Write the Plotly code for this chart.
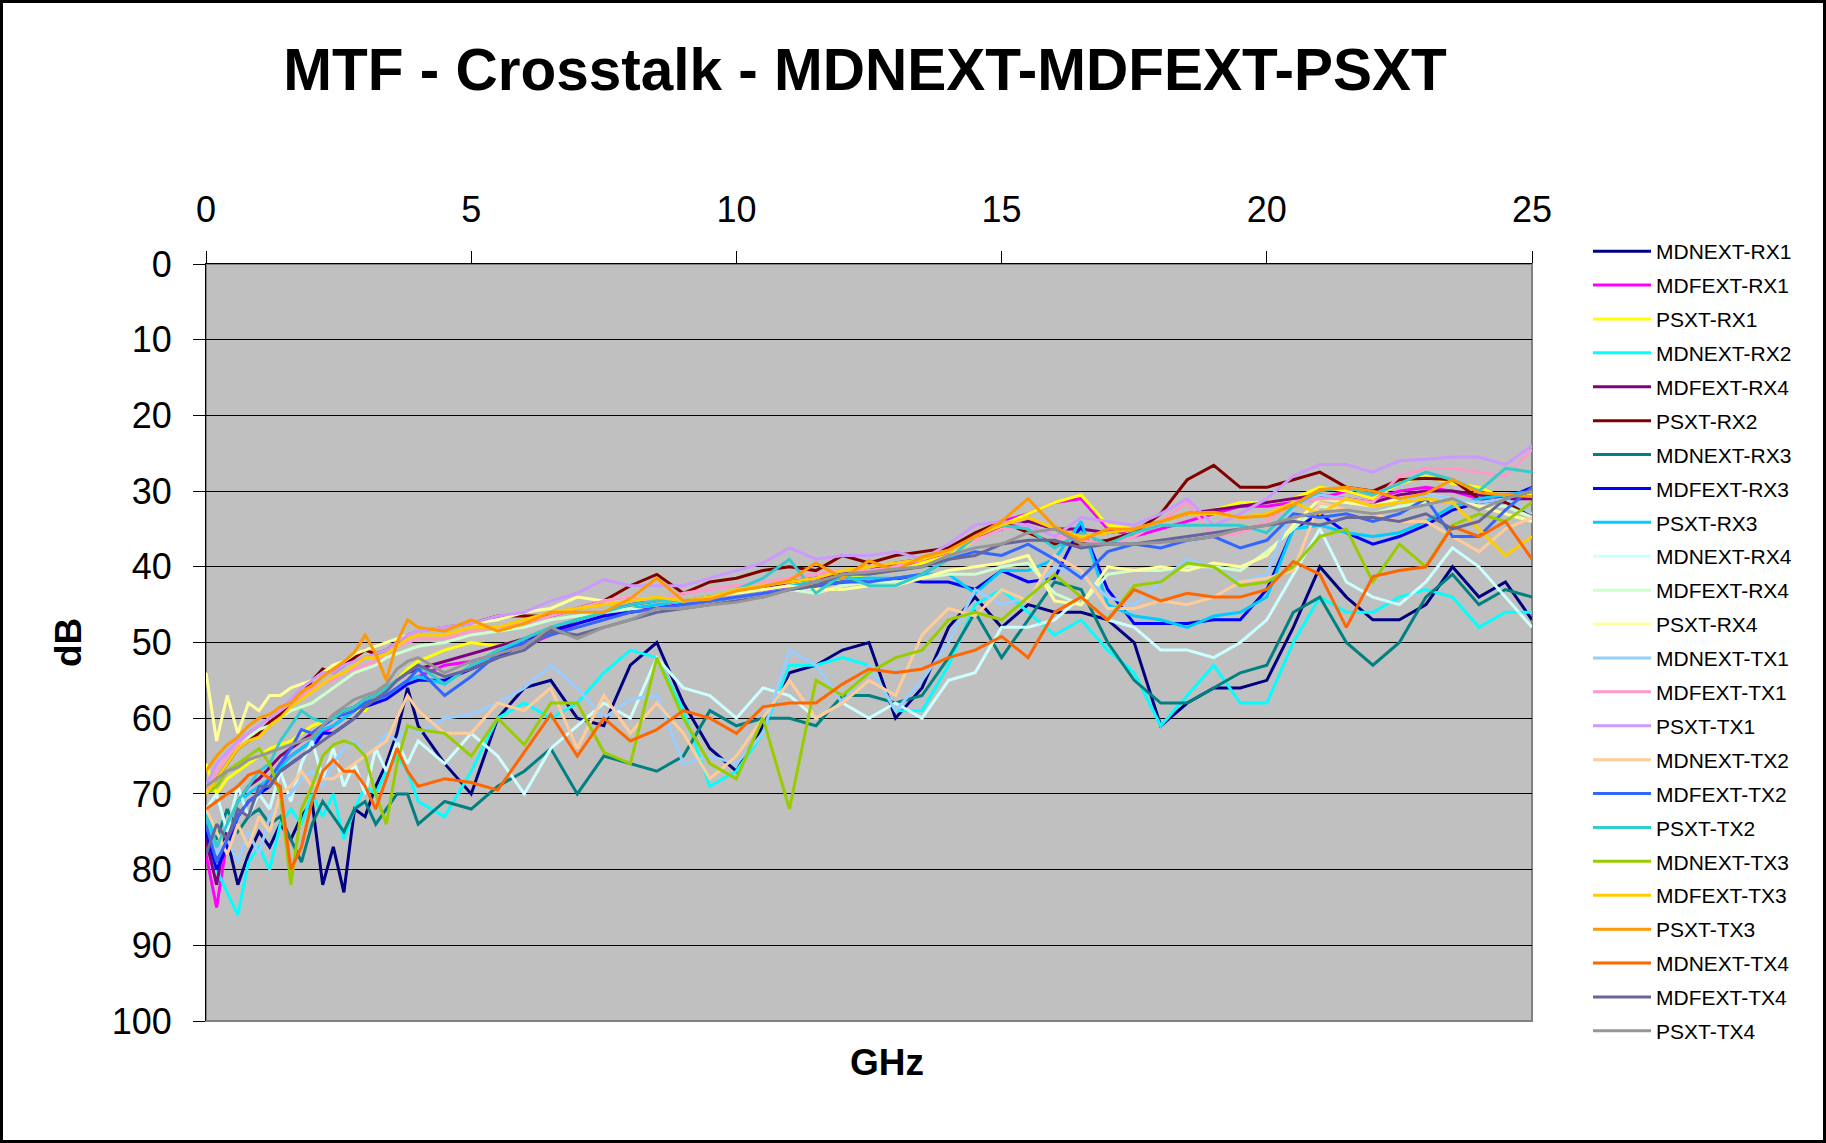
import plotly.graph_objects as go

# ---------------- data (dB vs GHz) ----------------
freq = [0, 0.2, 0.4, 0.6, 0.8, 1, 1.2, 1.4, 1.6, 1.8, 2, 2.2, 2.4, 2.6, 2.8, 3, 3.2, 3.4, 3.6, 3.8, 4,
        4.5, 5, 5.5, 6, 6.5, 7, 7.5, 8, 8.5, 9, 9.5, 10, 10.5, 11, 11.5, 12, 12.5, 13, 13.5, 14,
        14.5, 15, 15.5, 16, 16.5, 17, 17.5, 18, 18.5, 19, 19.5, 20, 20.5, 21, 21.5, 22, 22.5, 23, 23.5, 24, 24.5, 25]

mdnext_rx1 = [74, 79, 76, 82, 78, 75, 77, 74, 76, 73, 71, 82, 77, 83, 72, 73, 69, 66, 62, 56, 61,
              66, 70, 60, 56, 55, 60, 61, 53, 50, 58, 64, 67, 61, 54, 53, 51, 50, 60, 56, 48,
              44, 48, 45, 46, 46, 47, 50, 61, 58, 56, 56, 55, 48, 40, 44, 47, 47, 45, 40, 44, 42, 47]
mdfext_rx1 = [78, 85, 76, 73, 71, 70, 68, 66, 65, 64, 63, 62, 61, 60, 59, 58, 57.5, 57, 56, 55, 54.5,
              53, 52.5, 51.5, 50.5, 49, 47.5, 46.5, 46, 45, 45, 44.5, 44, 43.5, 42.5, 42, 41.5, 41, 40, 39.5, 38,
              36, 34, 33, 31.5, 31, 35, 36, 35, 34, 33, 32, 32, 31.5, 31, 30, 31, 30, 29.5, 30, 31, 30.5, 30]
psxt_rx1 = [66, 70, 68, 67, 66, 65, 64, 63.5, 63, 62, 61, 60.5, 60, 59.5, 59, 59, 57, 56, 55, 53.5, 52.5,
            51, 50, 50.5, 49.5, 48.5, 47, 46, 45.5, 45, 44.5, 44, 43.5, 43, 42, 42.5, 41.5, 41, 40.5, 39.5, 38.5,
            36.5, 34.5, 33, 31.5, 30.5, 34.5, 35, 34, 33, 32.5, 31.5, 31.5, 31, 29.5, 30, 31, 29, 28, 29, 29.5, 31, 30.5]
mdnext_rx2 = [76, 80, 83, 86, 79, 77, 80, 74, 72, 74, 70, 73, 70, 76, 72, 69, 70, 67, 65, 67, 71,
              73, 67, 60, 58, 60, 58, 54, 51, 52, 59, 69, 67, 62, 53, 53, 52, 53, 59, 59, 53,
              45, 43, 46, 49, 47, 51, 54, 61, 57, 53, 58, 58, 50, 44, 46, 46, 44, 43, 44, 48, 46, 46]
mdfext_rx4_a = [76, 82, 74, 71, 69, 68, 66.5, 65, 64, 63, 62, 61, 60, 59, 58.5, 57.5, 57, 56, 55, 54, 53.5,
                52.5, 51.5, 50.5, 49.5, 48.5, 47, 46, 45, 44.5, 44.5, 44, 43.5, 43, 42, 41.5, 41, 40.5, 39.5, 39, 38,
                36, 35, 34, 35, 35, 35.5, 35, 34, 33, 32.5, 32, 31.5, 31, 30.5, 31, 31.5, 30.5, 30, 30, 30.5, 31, 31]
psxt_rx2 = [70, 68, 66, 64, 63, 62, 60.5, 59.5, 58, 57, 55, 53.5, 54, 53, 52, 51, 51.5, 51, 50, 49, 48.5,
            48, 47.5, 46.5, 46.5, 46.5, 45.5, 44.5, 42.5, 41, 43.5, 42, 41.5, 40.5, 40, 40.5, 38.5, 39.5, 38.5, 38, 37.5,
            35.5, 34, 35.5, 37, 37, 36.5, 35.5, 33, 28.5, 26.6, 29.5, 29.5, 28.5, 27.5, 29.5, 30, 28.5, 28.3, 28.5, 31, 31.5, 33]
mdnext_rx3 = [74, 76, 72, 75, 73, 72, 74, 73, 76, 79, 74, 71, 73, 75, 72, 71, 74, 72, 70, 70, 74,
              71, 72, 69, 67, 64, 70, 65, 66, 67, 65, 59, 61, 60, 60, 61, 57, 57, 58, 57, 52,
              46, 52, 47, 42, 43, 50, 55, 58, 58, 56, 54, 53, 46, 44, 50, 53, 50, 44, 41, 45, 43, 44]
mdfext_rx3 = [75, 80, 77, 73, 71, 70, 69, 67, 66, 65, 64, 62, 62, 61, 60, 58.5, 58, 57.5, 56.5, 55.5, 55,
              55, 53.5, 52, 50, 48.5, 47.5, 46.5, 46, 45.5, 45, 44.5, 44, 43.5, 43, 42.5, 42, 42, 41.5, 42, 42,
              43, 40.5, 42, 41.5, 34.5, 43, 47.5, 47.5, 47.5, 47, 47, 43, 35, 33, 35.5, 37, 36, 34.5, 32.5, 31.5, 31, 29.5]
psxt_rx3 = [72, 77, 74, 71, 70, 69, 68, 66.5, 65, 64, 63, 61.5, 61, 60, 59, 58, 57.5, 57, 56, 55, 54.5,
            55.5, 53, 51.5, 49.5, 48, 47, 46, 45.5, 45, 44.5, 44, 43.5, 43, 42.5, 42, 41.5, 41.5, 41.5, 41, 41,
            43.5, 40.5, 40.5, 39, 34, 45, 46.5, 47, 48, 46.5, 46, 44, 35, 34.5, 35.5, 36, 35.5, 34, 32, 31, 30.5, 30]
mdnext_rx4 = [72, 70, 75, 69, 73, 70, 72, 67, 71, 66, 63, 68, 64, 69, 66, 70, 64, 67, 63, 66, 63,
              66, 62, 65, 70, 64, 61, 58, 60, 52, 56, 57, 60, 56, 57, 60, 58, 60, 58, 60, 55,
              54, 48, 48, 47, 44, 47, 48, 51, 51, 52, 50, 47, 41, 35, 42, 44, 45, 42, 37.5, 40, 44, 48]
mdfext_rx4_b = [70, 67, 65, 63.5, 62.5, 61.5, 61, 60, 59, 58.5, 58, 57, 56, 55, 54, 53.5, 53, 52, 51.5, 51, 50.5,
                50, 49, 48.5, 48, 47, 46.5, 46, 45.5, 46, 45, 44.5, 44, 43.5, 43, 43.5, 42.5, 42, 42, 41.5, 41,
                41, 40, 39.5, 43.5, 45, 41, 40.5, 40.5, 40, 40, 40.5, 38, 35, 32, 32.5, 33, 32, 31.5, 31, 32, 32, 33.5]
psxt_rx4 = [54, 63, 57, 62, 58, 59, 57, 57, 56, 55.5, 55, 54, 53, 52.5, 51.5, 51, 50.5, 50, 49.5, 49, 48.5,
            48, 47.5, 47, 46, 45.5, 44, 44.5, 44, 44.5, 44.5, 44, 43.5, 43, 42.5, 43, 43, 42.5, 42.5, 41.5, 40.5,
            40, 39.5, 38.5, 44.5, 45, 40, 40.5, 40, 40.5, 39.5, 40, 38.5, 34.5, 31, 31.5, 32, 31, 30.5, 31, 32, 33, 34]
mdnext_tx1 = [74, 78, 76, 79, 75, 78, 73, 71, 70, 68, 67, 69, 66, 64, 63, 65, 64, 62, 63, 61, 62,
              60, 59.5, 58, 56, 53, 56, 60, 57.5, 57, 66, 65, 66, 62, 51, 53, 58, 53, 59, 55, 50,
              43, 45, 44, 40, 41, 44, 45, 42, 39, 40, 42, 41, 32, 30.5, 31, 32, 31.5, 30.5, 31, 31.5, 31, 33]
mdfext_tx1 = [70, 67, 65, 63.5, 62, 61, 60, 59, 58, 57, 56, 55.5, 55, 54, 53.5, 53, 52.5, 51.5, 50.5, 50, 49.5,
              49.5, 48.5, 48, 47.5, 46.5, 45.5, 44.5, 44, 44.5, 43.5, 43, 42.5, 42, 41.5, 41, 40.5, 40.5, 40, 39, 38,
              36.5, 35, 34.5, 36, 36.5, 37, 36, 34, 31.5, 36, 35.5, 34, 31.5, 31, 31, 31.5, 28, 27, 27, 27.5, 28, 24.5]
psxt_tx1 = [69, 66, 64.5, 63, 62, 61, 60, 59, 57.5, 56, 55, 54, 54, 53, 52.5, 52, 51.5, 51, 50, 49, 48.5,
            48, 47.5, 46.5, 46, 44.5, 43.5, 41.7, 42.5, 42.5, 42.5, 41.5, 40.5, 39.5, 37.5, 39, 38.5, 38.5, 38, 39, 37,
            34.5, 34, 34.5, 36, 33.5, 34, 34.5, 33, 31, 34.5, 33, 31, 28, 26.5, 26.5, 27.5, 26, 25.8, 25.5, 25.5, 26.5, 24]
mdnext_tx2 = [72, 75, 78, 74, 77, 73, 75, 70, 69, 67, 69, 68, 68, 67, 66, 65, 64, 63, 60, 57, 59,
              62, 62, 58, 59, 56, 64, 57, 62, 58, 62, 68, 65, 60, 55, 60, 58, 55, 57, 49, 45.5,
              46.5, 43, 44.5, 38.5, 40.5, 45.5, 45.5, 44.5, 45, 44, 42, 41.5, 40.5, 31.5, 32.5, 33, 34, 34, 36, 38, 35, 33.5]
mdfext_tx2 = [74, 79, 76, 73, 71, 70, 68, 66, 64, 61.5, 62, 61, 60, 59.5, 59, 58, 57.5, 57, 56, 55, 53.5,
              57, 54.5, 51.5, 50, 49, 48, 47, 46, 45.5, 45, 44.5, 44, 43.5, 43, 42.5, 42, 42, 41.5, 41, 39,
              38, 38.5, 37, 39, 41.5, 38, 37, 37.5, 36.5, 36, 37.5, 36.5, 33, 33.5, 33, 34, 33, 31, 36, 36, 32.5, 29.5]
psxt_tx2 = [73, 77, 74, 71, 69, 67, 66, 63, 61, 59, 60, 60.5, 60, 59, 58.5, 57.5, 57, 56, 55, 54, 53,
            55.5, 53, 51, 49.5, 48, 47, 46, 45, 44.5, 44.5, 44, 43, 41.5, 39, 43.5, 41, 42.5, 42.5, 41, 39,
            36, 34.5, 35, 37.5, 35.5, 37, 35.5, 34.5, 34.5, 34.5, 34.5, 35.5, 32, 30, 29.5, 30.5, 29, 27.5, 28.5, 30, 27, 27.5]
mdnext_tx3 = [70, 69, 67, 66, 65, 64, 66, 70, 82, 72, 69, 65, 63.5, 63, 63.5, 65, 70, 74, 66, 61, 61.5,
              62, 65, 60, 63.5, 58, 58, 64.5, 66, 52, 60, 66, 68, 60, 72, 55, 57, 54, 52, 51, 47,
              46, 47, 44, 41, 44, 47, 42.5, 42, 39.5, 40, 42.5, 42, 40, 36, 35, 42, 37, 40, 34.5, 33, 34, 31.5]
mdfext_tx3 = [70, 68, 66, 64, 63, 62.5, 61, 60, 58.5, 57.5, 56.5, 55.5, 54.5, 54, 53, 52, 52, 51.5, 50.5, 49.5, 49,
              49, 48, 48, 47, 46, 45.5, 45, 44.5, 44, 44.5, 44, 43, 42.5, 42, 41.5, 40.5, 40, 39.5, 39, 38,
              36, 34.5, 33.5, 35, 36, 35.5, 35, 34, 33, 33, 33.5, 33, 31.5, 33, 31, 32, 31.5, 31, 31.5, 35, 38.5, 36]
psxt_tx3 = [67, 65, 63.5, 62.5, 61, 60, 59.5, 58.5, 58, 56.5, 55.7, 54.5, 53.5, 52.5, 51.3, 49, 51.5, 55, 50, 47, 48,
            48.5, 47, 48.5, 47.5, 46, 46, 46, 44.2, 41.5, 44.5, 44.3, 43.2, 42.6, 41.8, 39.5, 41.5, 39.2, 40.5, 38.7, 37.8,
            36, 34, 31, 34.7, 36.5, 35, 35, 34, 32.9, 32.8, 33.5, 33.3, 31.8, 29.8, 29.5, 30, 31, 30.3, 28.5, 30.2, 30.5, 30.7]
mdnext_tx4 = [72, 71, 70, 69, 67.5, 67, 68, 69, 80, 77, 71, 67, 65.5, 67, 67, 69, 72, 68, 64, 67, 69,
              68, 68.5, 69.5, 64.5, 59.5, 65, 60, 63, 61.5, 59, 60, 62, 58.5, 58, 58, 55.5, 53.5, 54, 53.5, 52,
              51, 49.2, 52, 46, 44, 47, 43, 44.5, 43.5, 44, 44, 43, 39.3, 41, 48, 41.3, 40.5, 40, 34.7, 36, 34, 39]
mdfext_tx4 = [78, 74, 76, 72, 73, 69, 69, 67, 66, 65, 64, 63, 62, 61, 60, 58.5, 57.5, 56.5, 55, 54, 53,
              54.5, 53.5, 52, 51, 48.5, 49, 48, 47, 46, 45.5, 45, 44.5, 44, 43, 42.5, 41, 41, 40.5, 40, 39,
              38.5, 37, 36.5, 36.5, 37.5, 37, 37, 36.5, 36, 35.5, 35, 34.5, 34, 34.5, 33.5, 33.5, 34, 33, 35, 34, 31, 30]
psxt_tx4 = [69, 68, 67, 66.5, 65.5, 65, 64.5, 64, 63.5, 63, 62.5, 61, 59.5, 58.5, 57.5, 57, 56.5, 55.5, 53.5, 52.5, 52,
            54, 52.5, 51.5, 50.5, 48, 49.5, 48, 47, 45.5, 45.5, 45, 44.7, 44, 43, 42, 41, 40.7, 40.3, 40, 38.5,
            37.5, 37, 35.5, 35, 37, 37, 37, 36.8, 36.5, 36, 35, 34.5, 33.5, 32.8, 32.5, 33, 32.5, 31.8, 31, 32.5, 31, 30]

series_names = ["MDNEXT-RX1", "MDFEXT-RX1", "PSXT-RX1", "MDNEXT-RX2", "MDFEXT-RX4", "PSXT-RX2",
                "MDNEXT-RX3", "MDFEXT-RX3", "PSXT-RX3", "MDNEXT-RX4", "MDFEXT-RX4", "PSXT-RX4",
                "MDNEXT-TX1", "MDFEXT-TX1", "PSXT-TX1", "MDNEXT-TX2", "MDFEXT-TX2", "PSXT-TX2",
                "MDNEXT-TX3", "MDFEXT-TX3", "PSXT-TX3", "MDNEXT-TX4", "MDFEXT-TX4", "PSXT-TX4"]
series_values = [mdnext_rx1, mdfext_rx1, psxt_rx1, mdnext_rx2, mdfext_rx4_a, psxt_rx2,
                 mdnext_rx3, mdfext_rx3, psxt_rx3, mdnext_rx4, mdfext_rx4_b, psxt_rx4,
                 mdnext_tx1, mdfext_tx1, psxt_tx1, mdnext_tx2, mdfext_tx2, psxt_tx2,
                 mdnext_tx3, mdfext_tx3, psxt_tx3, mdnext_tx4, mdfext_tx4, psxt_tx4]
series_colors = ["#000080", "#FF00FF", "#FFFF00", "#00FFFF", "#800080", "#800000",
                 "#008080", "#0000FF", "#00CCFF", "#CCFFFF", "#CCFFCC", "#FFFF99",
                 "#99CCFF", "#FF99CC", "#CC99FF", "#FFCC99", "#3366FF", "#33CCCC",
                 "#99CC00", "#FFCC00", "#FF9900", "#FF6600", "#666699", "#969696"]

for v in series_values:
    assert len(v) == len(freq)

# ---------------- layout geometry ----------------
W, H = 1826, 1143
L, R, T, B = 206, 294, 264, 122
PW, PH = W - L - R, H - T - B
FONT = "Liberation Sans, Arial, sans-serif"

fig = go.Figure()
for i, (name, vals, col) in enumerate(zip(series_names, series_values, series_colors)):
    fig.add_trace(go.Scatter(x=freq, y=vals, mode="lines", name=name,
                             legendgroup="g%d" % i,
                             line=dict(color=col, width=3)))

fig.update_layout(
    width=W, height=H,
    margin=dict(l=L, r=R, t=T, b=B, autoexpand=False),
    paper_bgcolor="white",
    plot_bgcolor="#C0C0C0",
    font=dict(family=FONT, color="black"),
    title=dict(text="<b>MTF - Crosstalk - MDNEXT-MDFEXT-PSXT</b>",
               font=dict(size=58.5, family=FONT, color="black"),
               x=865 / W, xref="container", xanchor="center",
               y=1 - 70 / H, yref="container", yanchor="middle"),
    legend=dict(x=(1588 - L) / PW, xanchor="left", y=1 + (T - 231) / PH, yanchor="top",
                font=dict(size=21, family=FONT, color="black"),
                bgcolor="rgba(0,0,0,0)", itemwidth=58, tracegroupgap=3.6,
                maxheight=900),
    showlegend=True,
)

fig.update_xaxes(range=[0, 25], side="top", dtick=5, tick0=0,
                 ticks="outside", ticklen=12, tickcolor="black", tickwidth=1,
                 showgrid=False, zeroline=False,
                 showline=True, linecolor="black", linewidth=1,
                 tickfont=dict(size=36, family=FONT, color="black"),
                 ticklabelstandoff=15)
fig.update_yaxes(range=[100, 0], dtick=10, tick0=0,
                 ticks="outside", ticklen=12, tickcolor="black", tickwidth=1,
                 showgrid=True, gridcolor="black", gridwidth=1, zeroline=False,
                 showline=True, linecolor="black", linewidth=1,
                 tickfont=dict(size=36, family=FONT, color="black"),
                 ticklabelstandoff=14)

# plot-area frame (grey) and outer chart border (black)
fig.add_shape(type="rect", xref="x domain", yref="y domain", x0=0, x1=1, y0=0, y1=1,
              line=dict(color="#808080", width=2), layer="below")
fig.add_shape(type="rect", xref="paper", yref="paper",
              x0=(1.5 - L) / PW, x1=(W - 1.5 - L) / PW,
              y0=(1.5 - B) / PH, y1=1 + (T - 1.5) / PH,
              line=dict(color="black", width=3), layer="above")

fig.add_annotation(text="<b>GHz</b>", xref="paper", yref="paper",
                   x=(887 - L) / PW, y=-(1062 - (T + PH)) / PH,
                   xanchor="center", yanchor="middle", showarrow=False,
                   font=dict(size=37, family=FONT, color="black"))
fig.add_annotation(text="<b>dB</b>", xref="paper", yref="paper",
                   x=(68 - L) / PW, y=1 - (643 - T) / PH, textangle=-90,
                   xanchor="center", yanchor="middle", showarrow=False,
                   font=dict(size=37, family=FONT, color="black"))

fig.write_html("out.html", config={"displayModeBar": False},
               post_script="document.body.style.margin='0';document.body.style.overflow='hidden';")
